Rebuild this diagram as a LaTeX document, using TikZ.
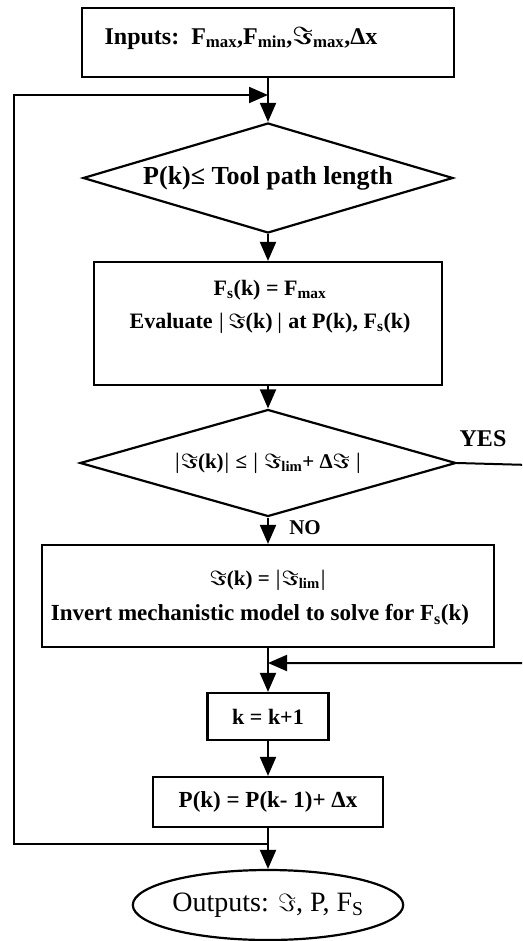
\documentclass[tikz,border=0pt]{standalone}
\usepackage{fontspec}
\setmainfont{Liberation Serif}
\usetikzlibrary{arrows.meta,shapes.geometric}
\newcommand{\Fr}{\ensuremath{\Im}}
\newcommand{\fsz}[1]{\fontsize{#1}{#1}\selectfont}
\tikzset{
  box/.style={draw, line width=2.2pt, inner sep=0pt},
  dia/.style={draw, diamond, line width=2.2pt, inner sep=0pt},
  txt/.style={inner sep=0pt},
  conn/.style={line width=2pt},
  arr/.style={conn, -{Triangle[length=19pt,width=16pt]}},
}
\begin{document}
\begin{tikzpicture}[x=1pt,y=-1pt]
\useasboundingbox (0,0) rectangle (522,941);
\clip (0,0) rectangle (522,941);
% nodes
\node[box, minimum width=372pt, minimum height=69pt] (inp) at (268,42.5) {};
\node[txt, font=\bfseries\boldmath\fsz{24}] (inpt) at (241,38) {Inputs:\ \ F\textsubscript{max},F\textsubscript{min},\Fr\textsubscript{max},Δx};
\node[dia, minimum width=370pt, minimum height=110pt, aspect=3.36, font=\bfseries\fsz{26}] (d1) at (268,178) {P(k)≤ Tool path length};
\node[box, minimum width=348pt, minimum height=123pt] (b2) at (268,323.5) {};
\node[txt, font=\bfseries\boldmath\fsz{22}] (b2a) at (270,290) {F\textsubscript{s}(k) = F\textsubscript{max}};
\node[txt, font=\bfseries\boldmath\fsz{22}] (b2b) at (270,323) {Evaluate $|$\,\Fr(k)\,$|$ at P(k), F\textsubscript{s}(k)};
\node[dia, minimum width=376pt, minimum height=107pt, aspect=3.51, font=\bfseries\boldmath\fsz{21}] (d2) at (268,463) {$|$\Fr(k)$|$ ≤ $|$ \Fr\textsubscript{lim}+ Δ\Fr\ $|$};
\node[box, minimum width=452pt, minimum height=102pt] (b3) at (268,596) {};
\node[txt, font=\bfseries\boldmath\fsz{21}] (b3a) at (268,580) {\Fr(k) = $|$\Fr\textsubscript{lim}$|$};
\node[txt, font=\bfseries\boldmath\fsz{23}] (b3b) at (260,615) {Invert mechanistic model to solve for F\textsubscript{s}(k)};
\node[box, minimum width=121pt, minimum height=47pt, font=\bfseries\fsz{22}] (kb) at (268,716.5) {k = k+1};
\node[box, minimum width=230pt, minimum height=50pt, font=\bfseries\fsz{23}] (pk) at (268,802) {P(k) = P(k- 1)+ Δx};
\node[draw, ellipse, line width=2.2pt, minimum width=262pt, minimum height=70pt, inner sep=0pt, font=\fsz{28}] (out) at (268,905) {Outputs: \Fr, P, F\textsubscript{S}};
\node[txt, font=\bfseries\fsz{24}] (yes) at (483,439) {YES};
\node[txt, font=\bfseries\fsz{21}] (no) at (305,528) {NO};
% coordinates
\coordinate (j2) at (268,95);
\coordinate (c2) at (14,95);
\coordinate (c1) at (14,844);
\coordinate (j1) at (268,844);
\coordinate (y1) at (530,465);
\coordinate (y2) at (530,663);
\coordinate (j3) at (268,663);
% connectors
\draw[arr] (inp.south) -- (d1.north);
\draw[arr] (d1.south) -- (b2.north);
\draw[arr] (b2.south) -- (d2.north);
\draw[arr] (d2.south) -- (b3.north);
\draw[arr] (b3.south) -- (kb.north);
\draw[arr] (kb.south) -- (pk.north);
\draw[arr] (pk.south) -- (out.north);
\draw[arr] (j1) -- (c1) -- (c2) -- (j2);
\draw[arr] (d2.east) -- (y1) -- (y2) -- (j3);
\end{tikzpicture}
\end{document}
